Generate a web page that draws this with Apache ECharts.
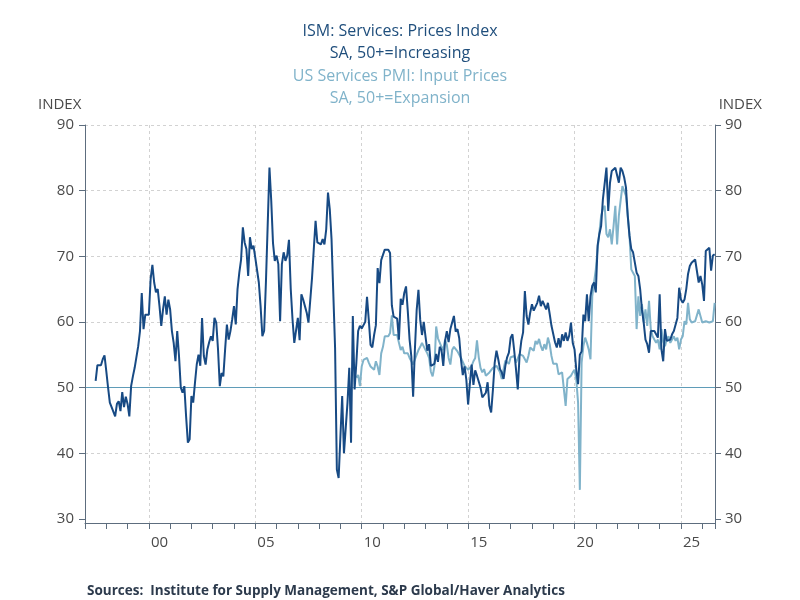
<!DOCTYPE html>
<html>
<head>
<meta charset="utf-8">
<script src="https://cdn.jsdelivr.net/npm/echarts@6/dist/echarts.min.js"></script>
<style>
html,body{margin:0;padding:0;background:#ffffff;}
#chart{width:800px;height:600px;}
</style>
</head>
<body>
<div id="chart"></div>
<script>
// ---- Data (monthly) ----
const ismStart = [1997, 7];   // ISM Services: Prices Index, first month
const ismValues = [
  51.0, 53.4, 53.2, 53.4, 54.3, 54.9,
  52.5, 50.0, 47.7, 47.0, 47.3, 45.6, 47.5, 47.9, 46.4, 49.3, 47.0, 48.6,
  47.5, 45.6, 50.2, 51.7, 53.0, 53.3, 56.3, 58.6, 64.4, 58.9, 61.1, 60.9,
  61.1, 66.5, 68.7, 66.0, 64.5, 65.0, 62.4, 59.4, 61.9, 63.9, 61.1, 63.4,
  61.9, 58.6, 56.8, 54.0, 58.6, 54.8, 50.0, 49.2, 50.2, 45.6, 41.6, 42.1,
  48.7, 47.7, 50.7, 53.5, 55.0, 53.3, 60.6, 54.8, 53.5, 55.8, 56.9, 57.8,
  57.1, 60.6, 59.9, 55.8, 50.2, 52.2, 51.7, 55.8, 59.6, 57.3, 58.6, 60.4,
  62.4, 59.6, 65.0, 67.5, 69.5, 74.4, 72.1, 71.1, 67.0, 72.9, 71.1, 71.6,
  69.8, 69.5, 66.0, 62.4, 57.8, 58.6, 66.0, 66.2, 83.5, 78.5, 72.0, 69.3,
  70.1, 68.8, 60.1, 68.8, 70.6, 69.3, 70.1, 72.5, 65.0, 60.4, 56.8, 56.9,
  60.6, 57.2, 64.2, 63.4, 62.4, 61.4, 59.9, 59.9, 66.7, 71.1, 75.4, 72.1,
  71.8, 71.8, 72.6, 71.8, 74.1, 79.7, 77.2, 72.6, 72.3, 56.0, 37.5, 36.2,
  42.5, 48.7, 40.0, 40.0, 47.7, 53.0, 41.6, 60.9, 49.7, 53.8, 58.6, 59.4,
  59.0, 58.8, 60.0, 63.8, 60.3, 56.5, 56.1, 58.0, 59.5, 68.2, 65.9, 69.4,
  70.2, 71.0, 71.1, 71.0, 70.5, 62.5, 60.8, 61.0, 60.5, 57.3, 63.5, 62.6,
  64.4, 65.4, 61.6, 57.3, 54.7, 48.6, 55.8, 61.8, 64.9, 60.3, 58.0, 60.0,
  57.7, 55.6, 56.6, 53.3, 53.0, 53.6, 55.1, 53.9, 56.2, 55.7, 53.3, 57.1,
  58.6, 56.9, 58.9, 58.6, 60.9, 58.5, 58.9, 57.5, 54.2, 51.9, 53.2, 51.2,
  47.4, 50.6, 53.5, 50.4, 52.6, 51.8, 51.5, 50.0, 48.5, 48.5, 49.2, 50.8,
  47.2, 46.2, 49.7, 53.8, 55.6, 54.3, 52.8, 52.3, 51.3, 53.3, 54.6, 55.3,
  57.6, 58.1, 55.6, 52.8, 49.7, 54.8, 57.1, 58.4, 64.7, 60.9, 59.6, 61.4,
  62.7, 61.7, 62.0, 62.9, 64.0, 62.4, 63.2, 62.9, 61.9, 62.9, 61.2, 59.4,
  59.1, 56.9, 56.1, 57.5, 56.1, 58.1, 57.1, 58.4, 57.1, 57.9, 59.9, 56.8,
  55.8, 52.7, 50.5, 55.0, 55.5, 61.1, 60.1, 64.2, 60.1, 63.9, 65.5, 66.0,
  64.5, 71.6, 73.4, 74.6, 78.7, 79.0, 83.5, 76.9, 81.2, 83.0, 83.0, 83.5,
  83.8, 81.2, 83.5, 83.0, 82.0, 80.5, 76.2, 73.1, 71.1, 70.6, 70.3, 67.5,
  67.0, 65.0, 61.9, 59.9, 57.3, 56.6, 55.3, 58.6, 58.3, 58.6, 58.3, 57.6,
  64.2, 55.8, 54.0, 58.9, 57.1, 56.8, 57.3, 58.1, 58.6, 58.9, 60.6, 65.2,
  63.4, 62.9, 63.4, 65.0, 67.3, 68.5, 69.0, 68.8, 69.5, 69.8, 66.0, 67.0,
  65.7, 63.2, 70.8, 71.1, 71.3, 67.8, 70.1, 70.3
];

const pmiStart = [2009, 10];  // US Services PMI: Input Prices, first month
const pmiValues = [
  51.5, 51.9, 50.2,
  53.2, 54.2, 54.5, 54.5, 53.8, 53.2, 53.5, 52.7, 54.0, 53.2, 51.9, 55.2,
  56.2, 57.8, 58.0, 57.8, 58.3, 61.0, 58.0, 57.8, 58.0, 56.8, 55.7, 56.2,
  55.2, 55.0, 55.2, 54.5, 54.8, 53.5, 53.8, 55.0, 55.7, 56.2, 56.8, 57.0,
  55.7, 55.2, 54.5, 52.4, 51.7, 53.2, 59.3, 57.5, 57.3, 56.2, 55.7, 57.3,
  56.5, 54.5, 53.5, 55.7, 56.2, 56.5, 55.5, 55.0, 54.5, 54.7, 53.3, 53.0,
  52.7, 53.0, 53.3, 54.0, 54.5, 57.2, 54.6, 53.0, 52.3, 52.8, 51.8, 51.8,
  52.3, 52.0, 53.0, 52.8, 53.3, 53.3, 52.3, 51.3, 52.8, 54.1, 54.3, 53.6,
  54.6, 54.3, 54.8, 53.8, 54.1, 55.1, 55.3, 54.8, 54.3, 53.8, 54.8, 56.1,
  55.8, 55.6, 57.1, 56.6, 57.4, 56.3, 55.6, 56.6, 55.8, 57.6, 56.6, 54.8,
  53.6, 53.3, 53.6, 52.0, 51.8, 52.3, 49.7, 47.2, 51.3, 51.5, 51.8, 52.3,
  52.7, 51.2, 47.7, 34.4, 53.8, 56.3, 57.6, 56.8, 55.8, 54.3, 63.9, 66.0,
  68.0, 71.1, 73.6, 76.2, 77.2, 77.7, 73.4, 72.9, 74.1, 71.8, 74.6, 77.7,
  71.8, 76.2, 78.5, 80.7, 81.0, 79.2, 76.2, 73.1, 68.0, 67.5, 67.0, 58.9,
  63.9, 60.9, 62.7, 59.9, 61.9, 59.4, 63.2, 58.9, 57.8, 57.3, 56.8, 57.3,
  55.8, 58.9, 57.0, 56.3, 57.3, 57.8, 56.8, 57.3, 57.8, 57.1, 57.6, 55.8,
  57.3, 57.8, 60.1, 59.6, 62.9, 60.4, 59.9, 59.9, 60.1, 59.9, 61.9, 62.2,
  59.9, 60.2, 60.1, 60.4, 59.9, 60.0, 60.1, 62.9
];

const yTickValues = [30, 40, 50, 60, 70, 80, 90];
const xLabelYears = [2000, 2005, 2010, 2015, 2020, 2025];
const referenceLevel = 50;

const titleLines1 = 'ISM: Services: Prices Index\nSA, 50+=Increasing';
const titleLines2 = 'US Services PMI: Input Prices\nSA, 50+=Expansion';
const sourceText = 'Sources:  Institute for Supply Management, S&P Global/Haver Analytics';

// ---- helpers ----
function toPoints(start, vals) {
  return vals.map(function (v, i) {
    const mi = start[1] - 1 + i;
    return [start[0] + mi / 12, v];
  });
}

const X_MIN = 1997, X_MAX = 2026.6;
const Y_MIN_DATA = 29.35, Y_MAX = 90;
const FONT = "'Open Sans', 'Liberation Sans', sans-serif";
const DARK = '#174a84';
const LIGHT = '#80b3ca';
const AXIS = '#5d6d7e';
const LABEL = '#4a4a4a';
const GRIDC = '#d2d2d2';
const REFC = '#5f9cb8';
const NONE = 'rgba(0,0,0,0)';

// year split line colours (only every 5th year visible)
const yearColors = [];
for (let y = X_MIN; y <= 2027; y++) {
  yearColors.push(xLabelYears.indexOf(y) >= 0 ? GRIDC : NONE);
}
const yColors = yTickValues.map(function (v) {
  return (v === yTickValues[0] || v === referenceLevel) ? NONE : GRIDC;
});
const refColors = yTickValues.map(function (v) {
  return v === referenceLevel ? REFC : NONE;
});

const chart = echarts.init(document.getElementById('chart'), null, {renderer: 'canvas'});

const option = {
  backgroundColor: '#ffffff',
  animation: false,
  textStyle: {fontFamily: FONT},
  title: [
    {text: titleLines1, left: 'center', top: 15,
     textStyle: {color: '#1f4e7c', fontSize: 16, fontWeight: 'normal', lineHeight: 22, fontFamily: FONT}},
    {text: titleLines2, left: 'center', top: 60,
     textStyle: {color: LIGHT, fontSize: 16, fontWeight: 'normal', lineHeight: 22, fontFamily: FONT}}
  ],
  grid: [
    {left: 85, right: 85, top: 125, bottom: 77, containLabel: false},
    {left: 85, right: 85, top: 125, bottom: 81, containLabel: false}
  ],
  xAxis: [
    { // year ticks + 5-year dashed grid lines
      type: 'value', gridIndex: 0, position: 'bottom', min: X_MIN, max: X_MAX, interval: 1,
      axisLine: {show: true, onZero: false, lineStyle: {color: AXIS, width: 1}},
      axisTick: {show: true, length: 6, lineStyle: {color: AXIS}},
      axisLabel: {show: false},
      splitLine: {show: true, lineStyle: {color: yearColors, type: [3, 3], width: 1}}
    },
    { // labels centred on mid-year
      type: 'value', gridIndex: 0, position: 'bottom', offset: 0, min: X_MIN, max: X_MAX, interval: 0.5,
      axisLine: {show: false, onZero: false}, axisTick: {show: false}, splitLine: {show: false},
      axisLabel: {
        show: true, margin: 12, color: LABEL, fontSize: 15, fontFamily: FONT,
        showMinLabel: true, showMaxLabel: false,
        formatter: function (v) {
          const base = v - 0.5;
          const r = Math.round(base);
          if (Math.abs(base - r) < 1e-6 && xLabelYears.indexOf(r) >= 0) {
            return String(r % 100).padStart(2, '0');
          }
          return '';
        }
      }
    },
    {type: 'value', gridIndex: 1, min: X_MIN, max: X_MAX, show: false}
  ],
  yAxis: [
    {type: 'value', gridIndex: 0, position: 'left', min: Y_MIN_DATA, max: Y_MAX,
     axisLine: {show: true, onZero: false, lineStyle: {color: AXIS}}, axisTick: {show: false},
     axisLabel: {show: false}, splitLine: {show: false}},
    {type: 'value', gridIndex: 0, position: 'right', min: Y_MIN_DATA, max: Y_MAX,
     axisLine: {show: true, onZero: false, lineStyle: {color: AXIS}}, axisTick: {show: false},
     axisLabel: {show: false}, splitLine: {show: false}},
    {type: 'value', gridIndex: 1, position: 'left', min: 30, max: 90, interval: 10,
     axisLine: {show: false}, axisTick: {show: true, length: 6, lineStyle: {color: AXIS}},
     axisLabel: {show: true, margin: 11, color: LABEL, fontSize: 15, fontFamily: FONT},
     splitLine: {show: true, lineStyle: {color: yColors, type: [3, 3], width: 1}}},
    {type: 'value', gridIndex: 1, position: 'right', min: 30, max: 90, interval: 10,
     axisLine: {show: false}, axisTick: {show: true, length: 6, lineStyle: {color: AXIS}},
     axisLabel: {show: true, margin: 10, color: LABEL, fontSize: 15, fontFamily: FONT},
     splitLine: {show: true, lineStyle: {color: refColors, type: 'solid', width: 1}}}
  ],
  graphic: [
    {type: 'text', left: 38, top: 97, style: {text: 'INDEX', fill: LABEL, font: '15px ' + FONT}},
    {type: 'text', right: 38, top: 97, style: {text: 'INDEX', fill: LABEL, font: '15px ' + FONT}},
    {type: 'text', left: 87, top: 584, style: {text: sourceText, fill: '#2c3a4c', font: 'bold 13.5px ' + FONT}}
  ],
  series: [
    {
      name: 'US Services PMI: Input Prices', type: 'line',
      xAxisIndex: 0, yAxisIndex: 0,
      data: toPoints(pmiStart, pmiValues),
      showSymbol: false, symbol: 'none', smooth: false,
      lineStyle: {color: LIGHT, width: 2}, z: 3
    },
    {
      name: 'ISM: Services: Prices Index', type: 'line',
      xAxisIndex: 0, yAxisIndex: 0,
      data: toPoints(ismStart, ismValues),
      showSymbol: false, symbol: 'none', smooth: false,
      lineStyle: {color: DARK, width: 2}, z: 4
    }
  ]
};
chart.setOption(option);
</script>
</body>
</html>
